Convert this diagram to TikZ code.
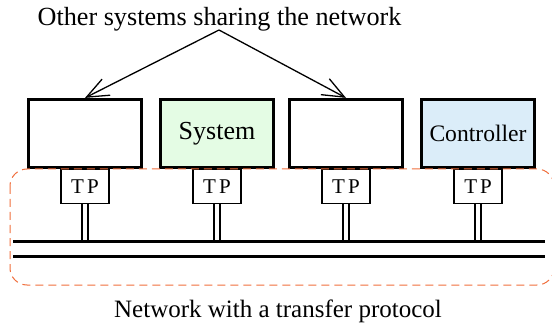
\documentclass[tikz,border=0pt]{standalone}
\usepackage{fontspec}
\setmainfont{Liberation Serif}
\usetikzlibrary{arrows.meta}
\definecolor{sysgreen}{RGB}{228,252,228}
\definecolor{ctrlblue}{RGB}{219,237,249}
\definecolor{netorange}{RGB}{240,110,60}
\tikzset{
  sysbox/.style={draw, line width=3.2pt, minimum width=113pt, minimum height=68pt, inner sep=0pt},
  tpbox/.style={draw, line width=1.2pt, fill=white, minimum width=48pt, minimum height=34pt, inner sep=0pt,
    font=\fontsize{21}{24}\selectfont},
  stem/.style={double, double distance=4.8pt, line width=1.2pt},
  bus/.style={line width=3pt},
  netzone/.style={draw=netorange, line width=1pt, dash pattern=on 8pt off 5pt, rounded corners=17pt},
  pointer/.style={line width=1.3pt, -{Straight Barb[length=22pt,width=18pt,line width=1.3pt]}},
  caption/.style={anchor=base, inner sep=0pt, font=\fontsize{26.2}{30}\selectfont}
}
\newcommand{\tplabel}{T\kern3pt P}
\begin{document}
\begin{tikzpicture}[x=1pt, y=-1pt]
\useasboundingbox (0,0) rectangle (552,326);

% the four stations on the network
\node[sysbox] (box1) at (85,133.5) {};
\node[sysbox, fill=sysgreen, font=\fontsize{26}{30}\selectfont] (box2) at (217,133.5) {System};
\node[sysbox] (box3) at (346,133.5) {};
\node[sysbox, fill=ctrlblue, font=\fontsize{23.6}{28}\selectfont] (box4) at (478,133.5) {Controller};

% transfer protocol adapters
\node[tpbox, anchor=north] (tp1) at (box1.south) {\tplabel};
\node[tpbox, anchor=north] (tp2) at (box2.south) {\tplabel};
\node[tpbox, anchor=north] (tp3) at (box3.south) {\tplabel};
\node[tpbox, anchor=north] (tp4) at (box4.south) {\tplabel};

% bus ends
\coordinate (busA1) at (13,241);
\coordinate (busA2) at (545,241);
\coordinate (busB1) at (13,256);
\coordinate (busB2) at (545,256);

% stems from the adapters down to the bus
\foreach \i in {1,...,4}
  \draw[stem] (tp\i.south) -- (tp\i.south |- busA1);

% the two bus lines
\draw[bus] (busA1) -- (busA2);
\draw[bus] (busB1) -- (busB2);

% network boundary
\draw[netzone] (10,169) rectangle (554,285);

% captions
\node[caption] (top) at (219.5,25.5) {Other systems sharing the network};
\node[caption, font=\fontsize{25}{30}\selectfont] (bottom) at (278,317) {Network with a transfer protocol};

% pointers to the other systems
\coordinate (apex) at (219,30);
\draw[pointer] (apex) -- (box1.north);
\draw[pointer] (apex) -- (box3.north);
\end{tikzpicture}
\end{document}
